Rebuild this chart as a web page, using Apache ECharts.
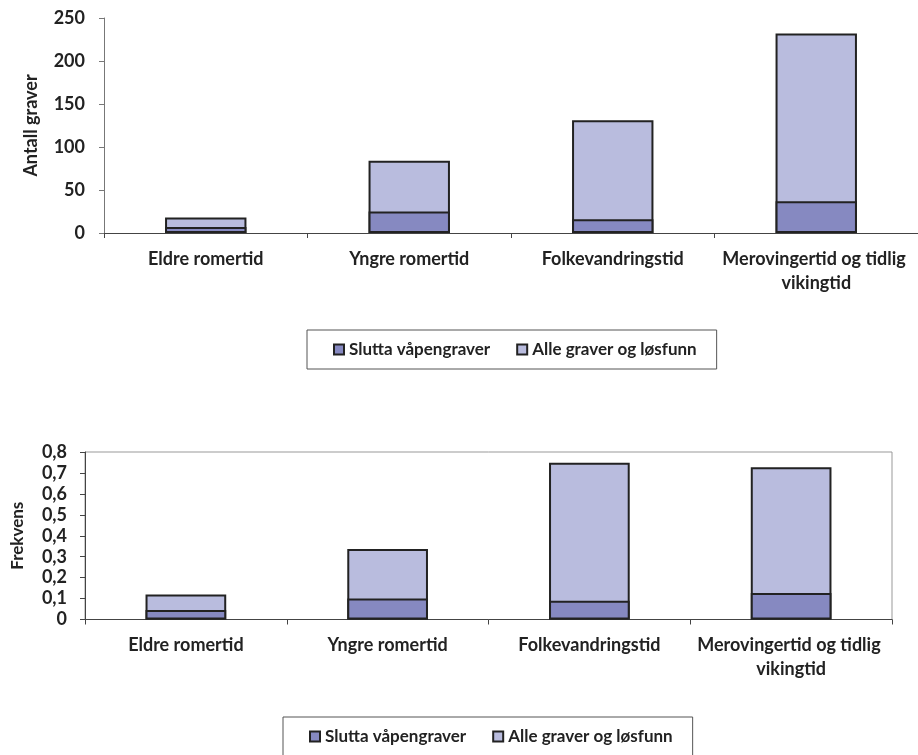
<!DOCTYPE html>
<html>
<head>
<meta charset="utf-8">
<script src="https://cdn.jsdelivr.net/npm/echarts@6/dist/echarts.min.js"></script>
<style>
html,body{margin:0;padding:0;background:#fff;}
#c{width:918px;height:755px;}
</style>
</head>
<body>
<div id="c"></div>
<script>
var categories = ['Eldre romertid', 'Yngre romertid', 'Folkevandringstid', 'Merovingertid og tidlig vikingtid'];
var seriesNames = ['Slutta våpengraver', 'Alle graver og løsfunn'];
// Top chart: counts
var countWeapon = [7, 25, 16, 37];
var countAll = [18, 84, 131, 232];
// Bottom chart: frequency
var freqWeapon = [0.045, 0.1, 0.089, 0.127];
var freqAll = [0.12, 0.337, 0.749, 0.727];
var topTicks = { min: 0, max: 250, interval: 50 };
var botTicks = { min: 0, max: 0.8, interval: 0.1 };

var FONT = 'Lato';
var darkColor = '#8689c1';
var lightColor = '#b9bcde';
var edge = '#222';

function catAxis(gridIndex) {
  return {
    type: 'category', gridIndex: gridIndex, data: categories,
    axisLine: { lineStyle: { color: '#444', width: 1 } },
    axisTick: { show: true, length: 5, lineStyle: { color: '#444' } },
    axisLabel: {
      interval: 0, margin: 14, color: '#222', fontFamily: FONT, fontWeight: 700, fontSize: 18,
      lineHeight: 24, width: 196, overflow: 'break', align: 'center'
    }
  };
}
function barSeries(name, data, color, xi, z) {
  return {
    name: name, type: 'bar', xAxisIndex: xi, yAxisIndex: xi, data: data,
    barWidth: '40%', barGap: '-100%', z: z,
    itemStyle: { color: color, borderColor: edge, borderWidth: 2 },
    emphasis: { disabled: true }
  };
}
function legendAt(left, top) {
  return {
    left: left, top: top, orient: 'horizontal',
    data: seriesNames,
    itemWidth: 10, itemHeight: 10, itemGap: 26,
    padding: [11, 20, 11, 26],
    borderColor: '#555', borderWidth: 1,
    icon: 'rect',
    selectedMode: false,
    textStyle: { fontFamily: FONT, fontWeight: 700, fontSize: 17, color: '#222' }
  };
}

var option = {
  animation: false,
  backgroundColor: '#fff',
  legend: [legendAt(307, 330), legendAt(283, 717)],
  grid: [
    { left: 104, top: 18, width: 816, height: 215, containLabel: false },
    { left: 85, top: 452, width: 807, height: 167.5, show: true, borderColor: '#999', borderWidth: 1, containLabel: false }
  ],
  xAxis: [catAxis(0), catAxis(1)],
  yAxis: [
    {
      type: 'value', gridIndex: 0, min: topTicks.min, max: topTicks.max, interval: topTicks.interval,
      name: 'Antall graver', nameLocation: 'middle', nameGap: 64, nameRotate: 90,
      nameTextStyle: { fontFamily: FONT, fontWeight: 700, fontSize: 18, color: '#222' },
      axisLine: { show: true, lineStyle: { color: '#777' } },
      axisTick: { show: true, length: 5, lineStyle: { color: '#777' } },
      splitLine: { show: false },
      axisLabel: { margin: 19, color: '#222', fontFamily: FONT, fontWeight: 700, fontSize: 18 }
    },
    {
      type: 'value', gridIndex: 1, min: botTicks.min, max: botTicks.max, interval: botTicks.interval,
      name: 'Frekvens', nameLocation: 'middle', nameGap: 59, nameRotate: 90,
      nameTextStyle: { fontFamily: FONT, fontWeight: 700, fontSize: 17, color: '#222' },
      axisLine: { show: true, lineStyle: { color: '#444' } },
      axisTick: { show: true, length: 5, lineStyle: { color: '#444' } },
      splitLine: { show: false },
      axisLabel: {
        margin: 18, color: '#222', fontFamily: FONT, fontWeight: 700, fontSize: 18,
        formatter: function (v) { return String(Math.round(v * 10) / 10).replace('.', ','); }
      }
    }
  ],
  series: [
    barSeries(seriesNames[1], countAll, lightColor, 0, 1),
    barSeries(seriesNames[0], countWeapon, darkColor, 0, 2),
    barSeries(seriesNames[1], freqAll, lightColor, 1, 1),
    barSeries(seriesNames[0], freqWeapon, darkColor, 1, 2)
  ]
};
var chart = echarts.init(document.getElementById('c'), null, { renderer: 'canvas' });
chart.setOption(option);
</script>
</body>
</html>
